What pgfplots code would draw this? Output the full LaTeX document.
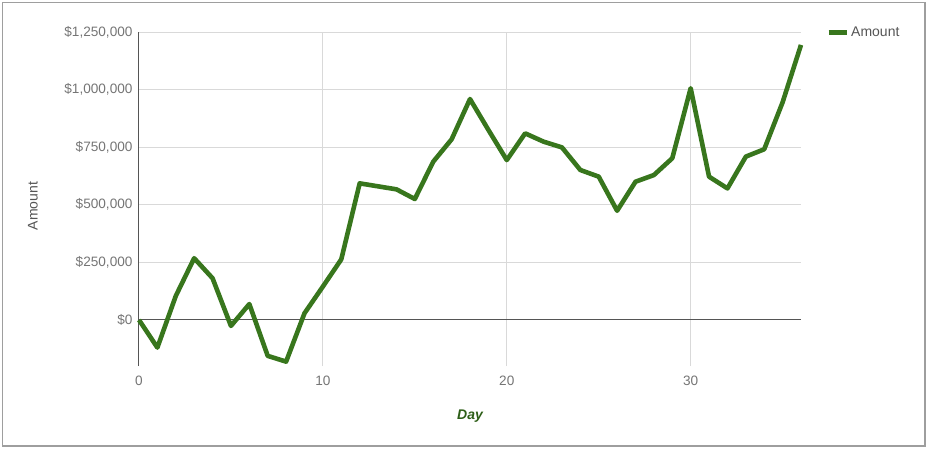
\documentclass[border=0pt]{standalone}
\usepackage{pgfplots}
\pgfplotsset{compat=1.18}
\usepackage{fontspec}
\setmainfont{Liberation Sans}
\definecolor{linegreen}{HTML}{38761D}
\definecolor{ticktext}{HTML}{757575}
\definecolor{labeltext}{HTML}{555555}
\definecolor{gridgray}{HTML}{D9D9D9}
\definecolor{zerogray}{HTML}{555555}
\definecolor{framegray}{HTML}{9E9E9E}
\begin{document}
\begin{tikzpicture}
\useasboundingbox (0pt,0pt) rectangle (927pt,-448pt);
\draw[framegray, line width=1.5pt] (2.5pt,-2.5pt) rectangle (925pt,-446pt);
\begin{axis}[
    at={(139pt,-366pt)}, anchor=south west,
    scale only axis, width=662pt, height=334pt,
    xmin=0, xmax=36, ymin=-200000, ymax=1250000,
    axis line style={draw=none},
    major tick length=0pt,
    xtick={0,10,20,30},
    ytick={0,250000,500000,750000,1000000,1250000},
    yticklabels={\$0,{\$250,000},{\$500,000},{\$750,000},{\$1,000,000},{\$1,250,000}},
    scaled y ticks=false,
    /pgf/number format/assume math mode=true,
    tick label style={font=\fontsize{13.6}{16}\selectfont, text=ticktext},
    xticklabel style={yshift=-6pt},
    yticklabel style={xshift=-3pt},
    grid=major,
    major grid style={gridgray, line width=1pt},
    clip=false,
    legend style={draw=none, fill=none, at={(rel axis cs:1,1)}, anchor=west,
        xshift=22pt, font=\fontsize{14}{16}\selectfont, text=labeltext,
        legend cell align=left},
    legend image code/.code={\draw[linegreen, line width=5pt] (0pt,0pt) -- (18pt,0pt);},
]
\addplot[zerogray, line width=1pt, forget plot] coordinates {(0,0) (36,0)};
\draw[zerogray, line width=1pt] (axis cs:0,-200000) -- (axis cs:0,1250000);
\addplot[linegreen, line width=4.6pt, line join=round] coordinates {
    (0, 0)
    (1, -120000)
    (2, 104000)
    (3, 268000)
    (4, 181000)
    (5, -26000)
    (6, 69000)
    (7, -156000)
    (8, -181000)
    (9, 29000)
    (10, 145000)
    (11, 263000)
    (12, 593000)
    (13, 580000)
    (14, 567000)
    (15, 525000)
    (16, 687000)
    (17, 784000)
    (18, 959000)
    (19, 825000)
    (20, 694000)
    (21, 810000)
    (22, 774000)
    (23, 749000)
    (24, 651000)
    (25, 622000)
    (26, 474000)
    (27, 600000)
    (28, 629000)
    (29, 702000)
    (30, 1006000)
    (31, 622000)
    (32, 571000)
    (33, 709000)
    (34, 741000)
    (35, 945000)
    (36, 1194000)
};
\addlegendentry{Amount}
\end{axis}
\node[rotate=90, text=labeltext, font=\fontsize{14}{16}\selectfont] at (33pt,-206pt) {Amount};
\node[text=linegreen!80!black, font=\fontsize{14}{16}\selectfont\bfseries\itshape] at (470pt,-416pt) {Day};
\end{tikzpicture}
\end{document}
